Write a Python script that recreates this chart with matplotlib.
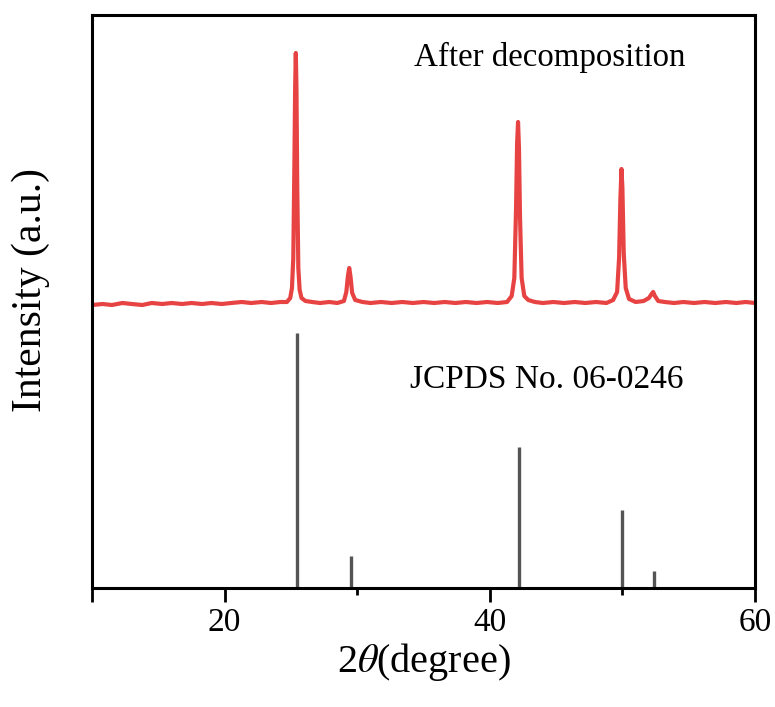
import matplotlib
matplotlib.use("Agg")
import matplotlib.pyplot as plt
from matplotlib.ticker import FixedLocator

plt.rcParams['font.family'] = ['Liberation Serif', 'DejaVu Serif']
plt.rcParams['mathtext.fontset'] = 'stix'

xrd_x = [10.0, 10.8, 11.5, 12.3, 13.0, 13.8, 14.5, 15.3, 16.0, 16.8, 17.5, 18.3,
         19.0, 19.8, 20.5, 21.3, 22.0, 22.8, 23.5, 24.2, 24.7, 24.95,
         25.08, 25.18, 25.26, 25.32, 25.37, 25.42, 25.48, 25.56, 25.66, 25.8, 26.1, 26.6,
         27.2, 27.9, 28.5, 29.0, 29.18, 29.3, 29.4, 29.5, 29.62, 29.85, 30.4, 31.0,
         31.8, 32.6, 33.4, 34.2, 35.0, 35.8, 36.6, 37.4, 38.2, 39.0, 39.8, 40.6,
         41.3, 41.65, 41.85, 41.98, 42.06, 42.13, 42.2, 42.28, 42.4, 42.6, 42.9,
         43.4, 44.0, 44.8, 45.6, 46.4, 47.2, 48.0, 48.8, 49.3, 49.6, 49.75, 49.85,
         49.93, 50.0, 50.1, 50.25, 50.5, 51.0, 51.6, 52.0, 52.2, 52.32, 52.45, 52.7,
         53.2, 53.9, 54.6, 55.4, 56.2, 57.0, 57.8, 58.6, 59.3, 60.0]
xrd_y = [283, 284, 283, 285, 284, 283, 285, 284, 285, 284, 285, 284,
         285, 284, 285, 286, 285, 286, 285, 286, 286, 290,
         300, 330, 420, 500, 535, 500, 400, 320, 298, 290, 287, 286,
         285, 286, 285, 287, 296, 312, 320, 311, 295, 288, 286, 285,
         286, 285, 286, 285, 286, 285, 286, 285, 286, 285, 286, 285,
         286, 292, 310, 380, 445, 466, 440, 370, 310, 292, 288,
         286, 285, 286, 285, 286, 285, 286, 285, 288, 296, 330, 390,
         419, 400, 335, 300, 289, 286, 287, 290, 294, 296, 292, 287,
         286, 285, 286, 285, 286, 285, 286, 285, 286, 285]

# reference card JCPDS No. 06-0246
ref_pos = [25.45, 29.5, 42.2, 49.97, 52.38]
ref_int = [255, 32, 141, 78, 17]

fig = plt.figure(figsize=(7.75, 7.07), dpi=100)
ax = fig.add_axes([0.1187, 0.1683, 0.8555, 0.8105])

ax.plot(xrd_x, xrd_y, color='#e84343', lw=3.0, solid_joinstyle='round')
ax.vlines(ref_pos, 0, ref_int, color='#555555', lw=2.4)

ax.set_xlim(10, 60)
ax.set_ylim(0, 573)
ax.set_yticks([])
ax.xaxis.set_major_locator(FixedLocator([10, 20, 40, 60]))
ax.set_xticklabels(['', '20', '40', '60'])
ax.xaxis.set_minor_locator(FixedLocator([30, 50]))
ax.tick_params(axis='x', which='major', direction='out', length=10, width=2,
               labelsize=24, pad=4)
ax.tick_params(axis='x', which='minor', direction='out', length=5, width=2)
for sp in ax.spines.values():
    sp.set_linewidth(2.2)

ax.text(0.485, 0.925, 'After decomposition', transform=ax.transAxes, fontsize=23.7,
        ha='left', va='center')
ax.text(0.48, 0.363, 'JCPDS No. 06-0246', transform=ax.transAxes, fontsize=24,
        ha='left', va='center')

ax.set_xlabel(r'2$\theta$(degree)', fontsize=29, labelpad=2)
ax.set_ylabel('Intensity (a.u.)', fontsize=30)
ax.yaxis.set_label_coords(-0.063, 0.52)

fig.savefig('out.png', dpi=100)
